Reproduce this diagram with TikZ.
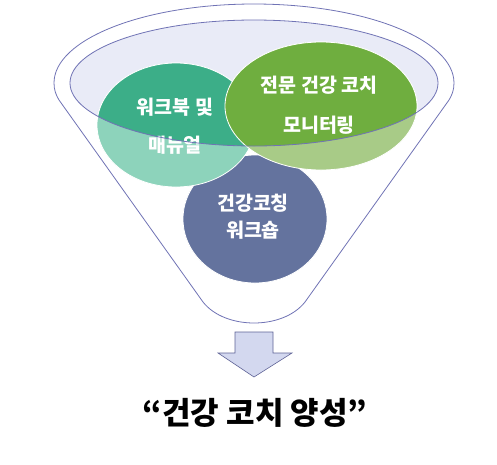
\documentclass[tikz,border=0pt]{standalone}
\usepackage{fontspec}
\setmainfont{Noto Sans CJK KR}
\definecolor{funnelline}{HTML}{7073B5}
\definecolor{innerfill}{HTML}{E9EBF7}
\definecolor{tealdark}{HTML}{3CAE88}
\definecolor{teallight}{HTML}{8DD3BB}
\definecolor{greendark}{HTML}{6FAE3F}
\definecolor{greenlight}{HTML}{A8CB87}
\definecolor{bluecirc}{HTML}{64739E}
\definecolor{arrowfill}{HTML}{D3D8EF}
\definecolor{arrowline}{HTML}{5E6296}
\tikzset{
  funnel/.style={draw=funnelline, line width=0.8pt},
  bubble/.style={draw=white, line width=0.8pt},
  bubbletext/.style={text=white, font=\bfseries\fontsize{19.5}{22}\selectfont, inner sep=0pt},
  titletext/.style={text=black, font=\bfseries\fontsize{31}{34}\selectfont, inner sep=0pt}
}
\begin{document}
\begin{tikzpicture}[x=1pt,y=-1pt]
\useasboundingbox (0,0) rectangle (497,464);
% funnel outline
\draw[funnel, fill=white] (54,83) arc[start angle=180, end angle=0, x radius=200pt, y radius=79pt]
  .. controls (454,90) and (452,95) .. (449,100)
  -- (305,302) .. controls (283,330) and (225,330) .. (203,302)
  -- (59,100) .. controls (56,95) and (54,90) .. (54,83) -- cycle;
% inner ellipse fill
\fill[innerfill] (254,83) ellipse [x radius=184pt, y radius=63pt];
% blue bubble
\filldraw[bubble, fill=bluecirc] (255,219) ellipse [x radius=72pt, y radius=64pt];
% light (outside) parts
\filldraw[bubble, fill=teallight] (176,125) ellipse [x radius=79pt, y radius=62pt];
\filldraw[bubble, fill=greenlight] (321,106) ellipse [x radius=96pt, y radius=64pt];
% dark (inside) parts
\begin{scope}
  \clip (254,83) ellipse [x radius=184pt, y radius=63pt];
  \filldraw[bubble, fill=tealdark] (176,125) ellipse [x radius=79pt, y radius=62pt];
  \filldraw[bubble, fill=greendark] (321,106) ellipse [x radius=96pt, y radius=64pt];
\end{scope}
% texts
\node[bubbletext] (t1a) at (175,107) {워크북 및};
\node[bubbletext] (t1b) at (175,145) {매뉴얼};
\node[bubbletext] (t2a) at (319,85) {전문 건강 코치};
\node[bubbletext] (t2b) at (319,125) {모니터링};
\node[bubbletext] (t3a) at (253,203) {건강코칭};
\node[bubbletext] (t3b) at (253,230) {워크숍};
% inner ellipse outline
\draw[funnel] (254,83) ellipse [x radius=184pt, y radius=63pt];
% arrow
\draw[fill=arrowfill, draw=arrowline, line width=0.6pt, line join=miter]
  (235,332) -- (273,332) -- (273,353) -- (292,353) -- (254,377) -- (218,353) -- (235,353) -- cycle;
% title
\node[titletext] (title) at (255,413) {“건강 코치 양성”};
\end{tikzpicture}
\end{document}
